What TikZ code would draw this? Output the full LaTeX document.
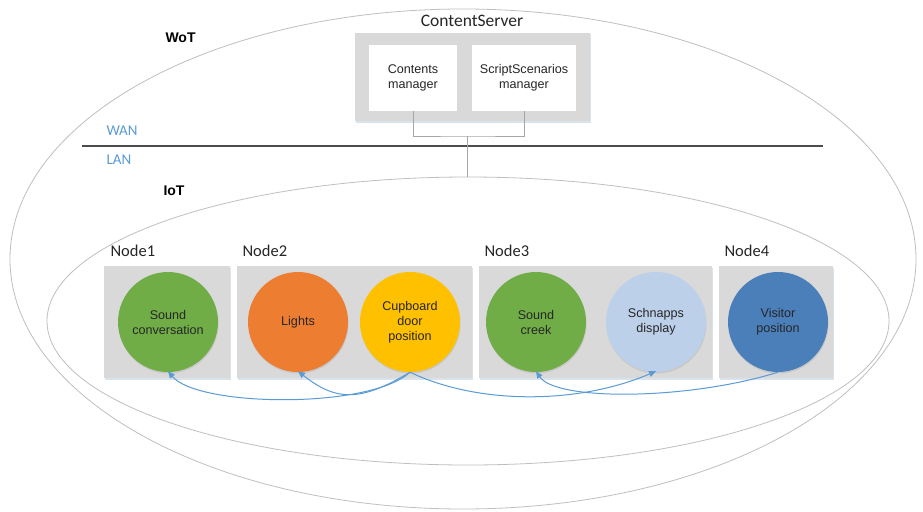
\documentclass[tikz,border=0pt]{standalone}
\usepackage{fontspec}
\setmainfont{Liberation Sans}
\newfontfamily\labelfont{Carlito}
\usetikzlibrary{shadows,arrows.meta}
\definecolor{ringgray}{HTML}{BFBFBF}
\definecolor{boxgray}{HTML}{D9D9D9}
\definecolor{wiregray}{HTML}{A6A6A6}
\definecolor{netblue}{HTML}{5B9BD5}
\definecolor{cgreen}{HTML}{70AD47}
\definecolor{corange}{HTML}{ED7D31}
\definecolor{cyellow}{HTML}{FFC000}
\definecolor{clight}{HTML}{BDD0EA}
\definecolor{cblue}{HTML}{4A7FBA}
\definecolor{txt}{HTML}{262626}
\tikzset{
  ring/.style={draw=ringgray, line width=0.8pt},
  graybox/.style={fill=boxgray, draw=none, inner sep=0pt,
    drop shadow={shadow xshift=0.5pt, shadow yshift=-1.5pt, opacity=0.25, fill=netblue!60!gray}},
  whitebox/.style={fill=white, draw=none, inner sep=0pt, align=center,
    font=\fontsize{12.6}{15}\selectfont, text=txt},
  device/.style={circle, minimum size=100pt, inner sep=0pt, align=center,
    font=\fontsize{12.6}{15}\selectfont, text=txt,
    drop shadow={shadow xshift=0.5pt, shadow yshift=-1.5pt, opacity=0.2}},
  tag/.style={font=\labelfont\fontsize{16.5}{18}\selectfont, text=txt, anchor=west},
  layer/.style={font=\fontsize{14}{16}\selectfont\bfseries, anchor=west},
  net/.style={font=\labelfont\fontsize{15}{17}\selectfont, text=netblue, anchor=west},
  wire/.style={draw=wiregray, line width=0.8pt},
  link/.style={draw=netblue, line width=1pt, -{Triangle[length=7pt,width=6pt]}}
}
\begin{document}
\begin{tikzpicture}[x=1pt,y=-1pt]
\useasboundingbox (0,0) rectangle (923,511);
\fill[white] (0,0) rectangle (923,511);

% WoT and IoT domains
\draw[ring] (463,259) ellipse [x radius=453, y radius=250];
\draw[ring] (468,321) ellipse [x radius=421, y radius=144];

% WAN / LAN boundary
\draw[draw=black!70, line width=1.2pt] (82,146) -- (823,146);
\node[net] (wan) at (103,131) {WAN};
\node[net] (lan) at (103,160) {LAN};
\node[layer] (wot) at (162,38) {WoT};
\node[layer] (iot) at (160,191) {IoT};

% Content server
\node[font=\labelfont\fontsize{17.5}{19}\selectfont, text=txt] (cstitle) at (472,21) {ContentServer};
\node[graybox, minimum width=235pt, minimum height=88pt] (cs) at (472.5,77) {};
\node[whitebox, minimum width=88pt, minimum height=66pt] (cm) at (413,78) {Contents\\manager};
\node[whitebox, minimum width=104pt, minimum height=66pt] (ssm) at (524,78) {ScriptScenarios\\manager};
\coordinate (junction) at (467,136);
\coordinate (iottop) at (467,177);
\draw[wire] (cm.south) |- (junction) -| (ssm.south);
\draw[wire] (junction) -- (iottop);

% IoT nodes
\node[tag] (l1) at (107,251) {Node1};
\node[tag] (l2) at (239,251) {Node2};
\node[tag] (l3) at (481,251) {Node3};
\node[tag] (l4) at (721,251) {Node4};
\node[graybox, minimum width=126pt, minimum height=112pt] (b1) at (167,322) {};
\node[graybox, minimum width=235pt, minimum height=112pt] (b2) at (354.5,322) {};
\node[graybox, minimum width=233pt, minimum height=112pt] (b3) at (595.5,322) {};
\node[graybox, minimum width=114pt, minimum height=112pt] (b4) at (776,322) {};

% Devices
\node[device, fill=cgreen] (sc) at (168,322) {Sound\\conversation};
\node[device, fill=corange] (li) at (298,322) {Lights};
\node[device, fill=cyellow] (cb) at (410,322) {Cupboard\\door\\position};
\node[device, fill=cgreen] (sk) at (536,322) {Sound\\creek};
\node[device, fill=clight] (sd) at (656,322) {Schnapps\\display};
\node[device, fill=cblue] (vp) at (778,322) {Visitor\\position};

% Event links
\draw[link] (cb.south) .. controls +(-40,37) and +(30,36) .. ([yshift=1pt]sc.south);
\draw[link] (cb.south) .. controls +(-50,30) and +(38,30) .. ([yshift=1pt]li.south);
\draw[link] (cb.south) .. controls +(69,33) and +(-77,33) .. ([yshift=1pt]sd.south);
\draw[link] (vp.south) .. controls +(-90,28) and +(20,30) .. ([yshift=1pt]sk.south);
\end{tikzpicture}
\end{document}
